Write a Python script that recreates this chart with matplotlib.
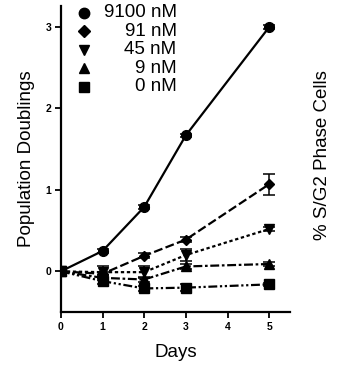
import matplotlib
matplotlib.use("Agg")
import matplotlib.pyplot as plt

plt.rcParams['font.family'] = ['Liberation Sans', 'DejaVu Sans']

# data
days = [0, 1, 2, 3, 5]
labels = ["9100 nM", "91 nM", "45 nM", "9 nM", "0 nM"]
d9100 = [0, 0.25, 0.79, 1.67, 3.0]
d91 = [0, -0.03, 0.19, 0.39, 1.07]
d45 = [0, -0.01, -0.01, 0.20, 0.52]
d9 = [0, -0.08, -0.10, 0.06, 0.09]
d0 = [0, -0.12, -0.21, -0.20, -0.16]
e9100 = [0, 0.02, 0.02, 0.02, 0.02]
e91 = [0, 0.02, 0.03, 0.03, 0.13]
e45 = [0, 0.07, 0.07, 0.07, 0.02]
e9 = [0, 0.03, 0.03, 0.03, 0.02]
e0 = [0, 0.04, 0.03, 0.04, 0.02]

series = [d9100, d91, d45, d9, d0]
errors = [e9100, e91, e45, e9, e0]
markers = ["o", "D", "v", "^", "s"]
msizes = [7, 5.5, 7, 7, 6.5]
dashes = [None, (4, 1.5), (1.5, 1.2), (4, 1.2, 1.2, 1.2), (4, 1.2, 1, 1.2, 1, 1.2)]

fig = plt.figure(figsize=(3.38, 3.68), dpi=100)
ax = fig.add_axes([0.180, 0.152, 0.678, 0.832])

for y, e, m, ms, ds in zip(series, errors, markers, msizes, dashes):
    line = ax.errorbar(days, y, yerr=e, color="black", marker=m, markersize=ms,
                       linewidth=1.6, elinewidth=1.1, capsize=4, capthick=1.1)[0]
    if ds is not None:
        line.set_dashes(ds)

ax.set_xlim(0, 5.5)
ax.set_ylim(-0.5, 3.26)
ax.set_xticks([0, 1, 2, 3, 4, 5])
ax.set_yticks([0, 1, 2, 3])
for s in ["top", "right"]:
    ax.spines[s].set_visible(False)
for s in ["left", "bottom"]:
    ax.spines[s].set_linewidth(1.6)
ax.tick_params(width=1.3, length=4, labelsize=7.5, pad=3)
for t in ax.get_xticklabels() + ax.get_yticklabels():
    t.set_fontweight("bold")

ax.set_xlabel("Days", fontsize=13.5)
ax.set_ylabel("Population Doublings", fontsize=13.5)
ax.xaxis.set_label_coords(0.5, -0.105)
ax.yaxis.set_label_coords(-0.112, 0.5)
ax.xaxis.label.set_va("top")
fig.text(0.955, 0.579, "% S/G2 Phase Cells", rotation=90, fontsize=13.5,
         ha="center", va="center")

# legend drawn by hand: markers left, labels right aligned
for i, (lab, m, ms) in enumerate(zip(labels, markers, msizes)):
    yy = 0.978 - i * 0.0605
    ax.plot([0.101], [yy], marker=m, markersize=ms + 0.5, color="black",
            transform=ax.transAxes, clip_on=False)
    ax.text(0.505, yy, lab, transform=ax.transAxes, ha="right", va="center",
            fontsize=13.5)

fig.savefig("out.png", dpi=100)
